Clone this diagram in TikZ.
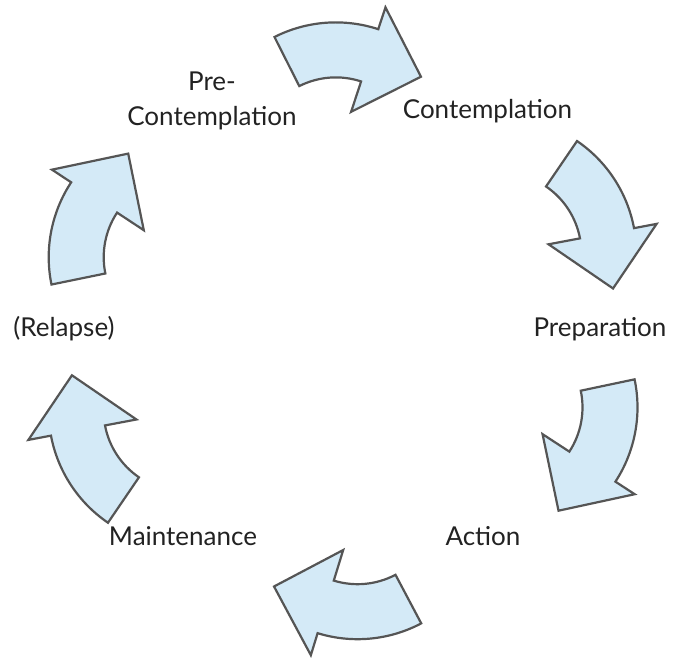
\documentclass[tikz,border=0pt]{standalone}
\usepackage{fontspec}
\setmainfont{Lato}
\definecolor{arrowfill}{HTML}{D4EAF7}
\definecolor{arrowline}{HTML}{555555}
\definecolor{labeltext}{HTML}{222222}
\newcommand\cycarrow[3]{%
  \begin{scope}[shift={(#1pt,#2pt)}]
    \draw[cyclearrow] (#3+45:136pt) arc[start angle=#3+45, end angle=#3, radius=136pt]
      -- (#3:159pt) -- (#3-28:118pt) -- (#3:49pt) -- (#3:81pt)
      arc[start angle=#3, end angle=#3+45, radius=81pt] -- cycle;
  \end{scope}}
\tikzset{
  cyclearrow/.style={fill=arrowfill, draw=arrowline, line width=2.2pt, line join=miter},
  stagelabel/.style={font=\fontsize{26}{35}\selectfont, text=labeltext, inner sep=0pt, align=center}
}
\begin{document}
\begin{tikzpicture}[x=1pt,y=1pt]
\useasboundingbox (0,0) rectangle (673,658);
\cycarrow{335.8}{499.6}{71.8}
\cycarrow{500.4}{404.6}{10.7}
\cycarrow{501.5}{250.6}{-33.1}
\cycarrow{357.6}{154.8}{-107.1}
\cycarrow{184.6}{247.6}{-169.3}
\cycarrow{184.7}{400.8}{146.6}
\node[stagelabel, anchor=base] (pre) at (212,532) {Pre-\\Contemplation};
\node[stagelabel, anchor=base] (con) at (487.5,539.7) {Contemplation};
\node[stagelabel, anchor=base] (prep) at (600,321) {Preparation};
\node[stagelabel, anchor=base] (act) at (483,112) {Action};
\node[stagelabel, anchor=base] (main) at (183,112) {Maintenance};
\node[stagelabel, anchor=base] (rel) at (64,321) {(Relapse)};
\end{tikzpicture}
\end{document}
